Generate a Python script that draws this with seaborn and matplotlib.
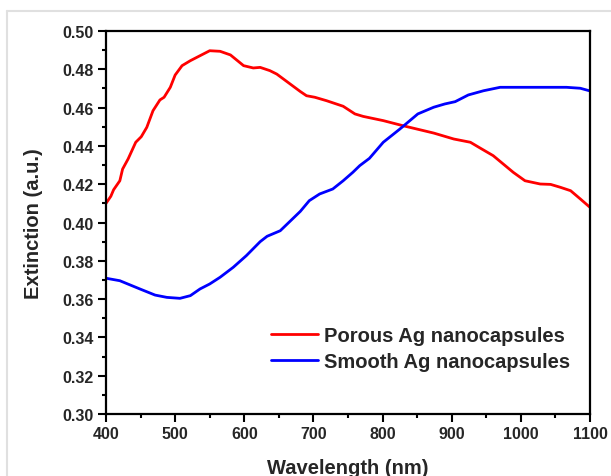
import numpy as np
import matplotlib
matplotlib.use("Agg")
import matplotlib.pyplot as plt
import pandas as pd
import seaborn as sns
from matplotlib.lines import Line2D
from matplotlib.ticker import MultipleLocator

# values
porous_nm = [400, 407, 411, 420, 424, 432, 443, 451, 459, 468, 478, 484, 493, 500,
             510, 522, 536, 550, 565, 580, 599, 613, 623, 637, 647, 681, 690, 702,
             719, 743, 760, 772, 801, 830, 874, 903, 927, 941, 960, 989, 1006, 1028,
             1043, 1057, 1072, 1086, 1100]
porous_ext = [0.4100, 0.4137, 0.4171, 0.4218, 0.4279, 0.4332, 0.4419, 0.4448, 0.4497,
              0.4584, 0.4640, 0.4654, 0.4706, 0.4770, 0.4819, 0.4845, 0.4871, 0.4897,
              0.4894, 0.4875, 0.4819, 0.4807, 0.4810, 0.4793, 0.4775, 0.4684, 0.4662,
              0.4654, 0.4636, 0.4607, 0.4567, 0.4554, 0.4532, 0.4505, 0.4467, 0.4436,
              0.4419, 0.4389, 0.4349, 0.4262, 0.4218, 0.4201, 0.4199, 0.4184, 0.4166,
              0.4123, 0.4079]

smooth_nm = [400, 420, 449, 471, 488, 507, 522, 536, 550, 565, 584, 603, 623, 633,
             652, 681, 694, 709, 728, 743, 757, 767, 781, 801, 825, 851, 874, 890,
             905, 924, 946, 970, 1018, 1066, 1086, 1100]
smooth_ext = [0.3709, 0.3696, 0.3653, 0.3621, 0.3609, 0.3604, 0.3618, 0.3653, 0.3679,
              0.3714, 0.3766, 0.3827, 0.3900, 0.3928, 0.3957, 0.4058, 0.4114, 0.4149,
              0.4175, 0.4218, 0.4262, 0.4297, 0.4335, 0.4419, 0.4488, 0.4567, 0.4602,
              0.4619, 0.4631, 0.4666, 0.4688, 0.4706, 0.4706, 0.4706, 0.4701, 0.4687]

labels = ["Porous Ag nanocapsules", "Smooth Ag nanocapsules"]

df = pd.concat([
    pd.DataFrame({"nm": porous_nm, "ext": porous_ext, "sample": labels[0]}),
    pd.DataFrame({"nm": smooth_nm, "ext": smooth_ext, "sample": labels[1]}),
])

sns.set_theme(style="ticks")
plt.rcParams["font.family"] = ["Liberation Sans", "DejaVu Sans"]
plt.rcParams["font.weight"] = "bold"

fig = plt.figure(figsize=(6.11, 4.77), dpi=100)
ax = fig.add_axes([106 / 611, 1 - 415 / 477, 484 / 611, 383 / 477])

sns.lineplot(data=df, x="nm", y="ext", hue="sample", palette=["#ff0000", "#0000ff"],
             linewidth=2, ax=ax, sort=False)

ax.set_xlim(400, 1100)
ax.set_ylim(0.30, 0.50)
ax.xaxis.set_major_locator(MultipleLocator(100))
ax.xaxis.set_minor_locator(MultipleLocator(50))
ax.yaxis.set_major_locator(MultipleLocator(0.02))
ax.yaxis.set_minor_locator(MultipleLocator(0.01))
ax.yaxis.set_major_formatter(matplotlib.ticker.FormatStrFormatter("%.2f"))
ax.tick_params(which="major", direction="out", length=6, width=1.5, labelsize=11.5,
               pad=3, color="black")
ax.tick_params(which="minor", direction="out", length=3, width=1.5, color="black")
for lab in ax.get_xticklabels() + ax.get_yticklabels():
    lab.set_fontweight("bold")
for s in ax.spines.values():
    s.set_linewidth(1.6)
    s.set_color("black")

ax.set_xlabel("Wavelength (nm)", fontsize=14.5, fontweight="bold", labelpad=12)
ax.set_ylabel("Extinction (a.u.)", fontsize=14.5, fontweight="bold", labelpad=14)

leg = ax.legend(loc="lower right", bbox_to_anchor=(0.975, 0.092), frameon=False,
                fontsize=14.5, handlelength=2.3, handletextpad=0.3, labelspacing=0.35,
                borderaxespad=0)
for t in leg.get_texts():
    t.set_fontweight("bold")

# light grey frame of the screenshot
fig.add_artist(Line2D([7 / 611, 1], [1 - 12 / 477] * 2, color="#e0e0e0", lw=1.5))
fig.add_artist(Line2D([7 / 611] * 2, [0, 1 - 12 / 477], color="#e0e0e0", lw=1.5))

fig.savefig("out.png", dpi=100)
